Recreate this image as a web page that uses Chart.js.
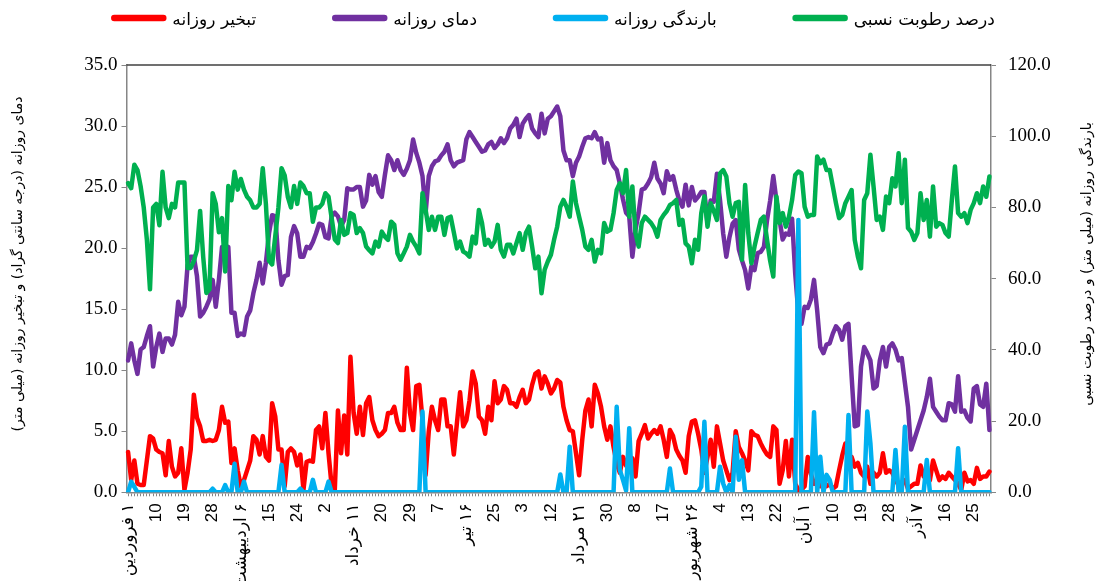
<!DOCTYPE html>
<html lang="fa">
<head>
<meta charset="utf-8">
<title>تبخیر، دما، بارندگی و رطوبت روزانه</title>
<script src="https://cdn.jsdelivr.net/npm/chart.js@4.4.1/dist/chart.umd.min.js"></script>
<style>
    html, body { margin: 0; padding: 0; background: #ffffff; }
    #chart { display: block; }
</style>
</head>
<body>
<canvas id="chart" width="1101" height="581" dir="rtl"></canvas>
<script>
/**
 * Daily weather chart: evaporation and temperature on the left axis,
 * rainfall and relative humidity on the right axis, from 1 Farvardin to 30 Azar.
 */

// Tick labels, one every 9 days
const TICK_LABELS = [
    '۱ فروردین', '10', '19', '28', '۶ اردیبهشت', '15', '24', '2', '۱۱ خرداد', '20', '29',
    '7', '۱۶ تیر', '25', '3', '12', '۲۱ مرداد', '30', '8', '17', '۲۶ شهریور', '4',
    '13', '22', '۱ آبان', '10', '19', '28', '۷ آذر', '16', '25'
];
const LABEL_STEP = 9;

// Daily evaporation (mm) - left axis
const EVAPORATION = [
    3.3, 1.0, 2.6, 0.7, 0.6, 0.6, 2.6, 4.6, 4.4, 3.5,
    3.3, 3.2, 1.4, 4.2, 2.1, 1.3, 1.6, 3.6, 0.2, 1.6,
    3.5, 8.0, 6.1, 5.4, 4.2, 4.2, 4.3, 4.2, 4.3, 5.1,
    7.0, 5.7, 5.8, 2.4, 3.6, 1.8, 0.5, 1.0, 1.8, 2.6,
    4.6, 4.3, 3.1, 4.6, 2.9, 2.6, 7.3, 6.2, 3.5, 3.5,
    0.5, 3.3, 3.6, 3.3, 2.2, 3.1, 0.2, 2.5, 2.6, 2.5,
    5.1, 5.4, 3.6, 6.5, 3.2, 0.5, 0.2, 6.7, 3.2, 6.3,
    3.1, 11.1, 6.5, 4.8, 7.0, 4.7, 7.3, 7.8, 5.9, 5.1,
    4.6, 4.8, 5.1, 6.5, 6.5, 7.0, 5.7, 5.1, 5.1, 10.2,
    6.5, 5.1, 8.7, 8.8, 5.9, 1.4, 5.0, 7.0, 5.9, 5.1,
    7.6, 7.6, 5.4, 5.4, 3.1, 5.7, 8.2, 5.4, 5.9, 7.5,
    9.9, 8.9, 6.2, 5.9, 4.8, 7.0, 5.9, 9.1, 7.3, 7.6,
    8.7, 8.4, 7.3, 7.3, 7.0, 7.8, 8.4, 7.3, 7.6, 8.8,
    9.7, 9.9, 8.5, 9.5, 8.9, 8.1, 8.5, 9.2, 9.0, 7.0,
    5.9, 5.1, 5.0, 3.2, 1.4, 4.3, 6.7, 7.6, 5.4, 8.8,
    8.1, 7.0, 5.4, 4.3, 5.4, 3.7, 2.4, 1.6, 2.9, 2.2,
    1.8, 2.8, 1.3, 4.2, 4.8, 5.5, 4.4, 4.8, 5.1, 4.8,
    5.4, 4.3, 2.9, 5.1, 4.6, 3.5, 3.0, 2.6, 1.6, 4.6,
    5.8, 5.9, 4.8, 3.5, 1.6, 2.9, 4.3, 2.1, 5.4, 4.0,
    2.6, 1.8, 1.0, 1.6, 5.0, 3.7, 3.2, 2.6, 1.8, 5.0,
    4.7, 4.6, 4.0, 3.5, 3.1, 2.9, 5.4, 5.1, 0.7, 1.8,
    4.2, 1.3, 4.3, 0.7, 0.2, 0.2, 0.5, 2.9, 1.5, 0.7,
    1.0, 0.5, 0.6, 0.5, 0.7, 0.3, 0.5, 1.8, 3.0, 4.0,
    2.6, 2.9, 2.1, 2.4, 1.6, 1.3, 2.1, 0.7, 1.6, 1.3,
    1.6, 3.2, 1.6, 1.8, 1.6, 1.0, 0.6, 0.8, 1.0, 0.3,
    0.5, 0.7, 0.7, 2.2, 1.3, 1.1, 1.0, 2.6, 1.8, 1.0,
    1.3, 1.1, 1.6, 1.3, 1.0, 0.7, 0.2, 1.6, 0.9, 1.0,
    0.7, 2.0, 1.1, 1.3, 1.3, 1.7
];

// Daily temperature (°C) - left axis
const TEMPERATURE = [
    10.8, 12.2, 10.8, 9.7, 11.7, 11.9, 12.8, 13.6, 10.3, 11.9,
    13.0, 11.5, 12.6, 12.6, 12.1, 12.9, 15.6, 14.5, 15.2, 18.6,
    19.3, 19.3, 17.7, 14.4, 14.7, 15.2, 15.8, 17.4, 15.2, 17.4,
    20.1, 19.0, 20.1, 14.7, 14.7, 12.8, 13.0, 12.9, 14.4, 14.9,
    16.3, 17.4, 18.8, 17.1, 18.8, 21.2, 22.7, 22.6, 19.0, 17.0,
    17.7, 17.8, 20.9, 21.8, 21.2, 19.3, 19.3, 20.1, 20.0, 20.5,
    21.2, 22.0, 21.9, 20.9, 20.8, 22.6, 22.9, 22.6, 21.8, 22.3,
    24.9, 24.8, 24.8, 25.0, 25.0, 23.4, 23.9, 26.0, 25.2, 25.9,
    24.6, 24.2, 26.0, 27.6, 27.2, 26.4, 27.2, 26.4, 26.0, 26.5,
    27.2, 28.9, 27.8, 27.0, 25.9, 22.9, 25.9, 26.7, 27.1, 27.2,
    27.6, 27.9, 28.5, 27.2, 26.7, 27.0, 27.1, 27.2, 28.9, 29.5,
    29.1, 28.7, 28.3, 27.9, 28.0, 28.5, 28.7, 28.2, 28.5, 29.0,
    28.6, 29.0, 29.8, 30.1, 30.6, 29.1, 30.2, 30.6, 30.9, 29.8,
    29.4, 29.1, 31.0, 29.4, 30.6, 30.8, 31.2, 31.6, 30.8, 28.0,
    27.2, 27.2, 25.9, 27.0, 27.5, 28.3, 29.0, 29.1, 29.0, 29.5,
    28.9, 29.0, 27.0, 28.6, 27.2, 26.7, 26.4, 25.3, 24.0, 22.9,
    22.6, 19.3, 21.5, 22.9, 24.8, 24.9, 25.3, 25.8, 27.0, 25.7,
    25.3, 24.5, 26.3, 25.6, 25.9, 24.8, 23.9, 23.4, 25.2, 23.5,
    25.0, 23.9, 24.2, 24.6, 24.6, 22.0, 23.9, 23.8, 26.1, 23.9,
    21.2, 19.3, 20.9, 22.0, 22.3, 19.9, 19.0, 18.2, 16.7, 18.5,
    18.2, 19.6, 19.7, 20.1, 22.3, 23.9, 25.9, 23.9, 22.3, 20.7,
    21.2, 21.1, 22.4, 17.9, 14.7, 13.8, 15.2, 15.1, 15.8, 17.4,
    14.9, 11.9, 11.4, 12.1, 12.2, 13.0, 13.6, 13.3, 12.5, 13.6,
    13.8, 9.5, 5.4, 5.5, 10.3, 11.9, 11.4, 10.8, 8.5, 8.7,
    10.8, 11.9, 10.3, 11.9, 12.2, 11.7, 10.8, 11.0, 9.0, 7.0,
    3.5, 4.3, 5.1, 5.9, 6.7, 7.8, 9.3, 7.0, 6.6, 6.2,
    5.9, 5.9, 7.3, 7.2, 6.6, 9.5, 6.6, 6.7, 6.1, 5.8,
    8.5, 8.7, 7.2, 7.0, 8.9, 5.1
];

// Daily rainfall (mm) - right axis
const RAINFALL = [
    0, 3.0, 1.5, 0, 0, 0, 0, 0, 0, 0,
    0, 0, 0, 0, 0, 0, 0, 0, 0, 0,
    0, 0, 0, 0, 0, 0, 0, 1.0, 0, 0,
    0, 2.0, 0, 0, 8.0, 0, 0, 3.0, 0, 0,
    0, 0, 0, 0, 0, 0, 0, 0, 0, 7.7,
    0, 0, 0, 0, 0, 1.0, 0, 0, 0, 3.5,
    0, 0, 0, 0, 3.0, 0, 0, 0, 0, 0,
    0, 0, 0, 0, 0, 0, 0, 0, 0, 0,
    0, 0, 0, 0, 0, 0, 0, 0, 0, 0,
    0, 0, 0, 0, 22.7, 0, 0, 0, 0, 0,
    0, 0, 0, 0, 0, 0, 0, 0, 0, 0,
    0, 0, 0, 0, 0, 0, 0, 0, 0, 0,
    0, 0, 0, 0, 0, 0, 0, 0, 0, 0,
    0, 0, 0, 0, 0, 0, 0, 0, 5.0, 0,
    0, 12.8, 0, 0, 0, 0, 0, 0, 0, 0,
    0, 0, 0, 0, 0, 0, 24.0, 6.3, 3.5, 0.5,
    18.0, 0, 0, 0, 0, 0, 0, 0, 0, 0,
    0, 0, 0, 6.7, 0, 0, 0, 0, 0, 0,
    0, 0, 0, 1.6, 19.8, 0, 0, 0, 0, 7.2,
    2.5, 0, 2.0, 0, 15.6, 3.5, 9.0, 0, 0, 0,
    0, 0, 0, 0, 0, 0, 0, 0, 0, 0,
    0, 0, 0, 0, 76.5, 0, 0, 0, 0, 22.5,
    0, 10.0, 0, 4.9, 3.5, 0, 0, 0, 0, 0,
    21.7, 0, 0, 0, 0, 0, 22.7, 13.8, 0, 0,
    0, 0, 0, 0, 0, 11.9, 0, 0, 18.4, 0,
    0, 0, 0, 0, 0, 9.1, 0, 0, 0, 0,
    0, 0, 0, 0, 0, 12.4, 0, 0, 0, 0,
    0, 0, 0, 0, 0, 0
];

// Daily relative humidity (%) - right axis
const HUMIDITY = [
    86.8, 85.4, 92.0, 90.5, 86.0, 80.0, 71.0, 57.0, 80.0, 81.0,
    75.0, 90.0, 80.0, 77.0, 81.0, 80.0, 87.0, 87.0, 87.0, 63.0,
    63.0, 65.0, 68.0, 79.0, 66.0, 56.0, 57.0, 84.0, 81.0, 73.0,
    77.0, 62.0, 86.0, 82.0, 90.0, 85.0, 88.0, 85.0, 83.0, 82.0,
    80.0, 80.0, 81.0, 91.0, 81.0, 65.0, 64.0, 72.0, 80.0, 91.0,
    89.0, 83.0, 80.0, 86.0, 81.0, 87.0, 86.0, 84.0, 84.0, 76.0,
    80.0, 80.0, 81.0, 84.0, 83.0, 77.0, 71.0, 70.0, 76.5, 72.3,
    72.8, 78.4, 77.9, 72.8, 74.2, 72.8, 69.0, 68.0, 67.1, 70.4,
    69.0, 73.2, 71.8, 70.9, 76.0, 75.1, 67.1, 65.3, 67.1, 69.0,
    72.3, 70.4, 69.0, 67.1, 84.0, 79.3, 73.7, 77.4, 73.7, 77.4,
    77.4, 72.3, 77.0, 77.4, 73.0, 68.5, 70.4, 67.6, 67.1, 66.2,
    71.8, 69.9, 79.3, 75.6, 69.5, 70.9, 69.0, 70.4, 75.1, 68.1,
    66.2, 69.5, 69.5, 67.1, 70.0, 72.8, 68.1, 72.8, 74.6, 69.0,
    62.9, 66.2, 55.9, 62.5, 64.8, 66.7, 70.9, 74.6, 80.2, 82.1,
    80.2, 77.4, 87.3, 81.2, 77.4, 73.7, 69.0, 68.1, 70.9, 64.8,
    68.1, 67.1, 75.6, 73.2, 73.7, 78.4, 84.9, 86.8, 84.0, 90.5,
    77.4, 85.9, 72.8, 69.0, 75.6, 77.4, 76.5, 75.6, 74.2, 71.8,
    76.5, 77.9, 79.0, 80.7, 81.2, 82.1, 75.1, 76.5, 69.9, 69.0,
    64.3, 70.9, 68.1, 78.4, 83.1, 74.6, 81.2, 79.0, 76.5, 89.6,
    90.5, 88.7, 81.2, 77.4, 81.2, 81.6, 65.3, 86.3, 72.8, 64.3,
    69.0, 72.8, 76.5, 77.4, 70.9, 65.0, 60.6, 83.1, 75.6, 78.4,
    74.6, 77.4, 82.1, 89.1, 90.1, 89.6, 80.2, 77.4, 77.9, 77.9,
    94.3, 92.4, 93.4, 90.5, 90.5, 85.9, 81.2, 77.0, 77.9, 81.2,
    83.0, 84.9, 70.9, 66.2, 62.9, 82.1, 84.0, 94.8, 85.9, 76.5,
    77.4, 73.7, 83.1, 81.2, 88.2, 85.9, 95.2, 81.2, 93.4, 74.2,
    73.2, 70.9, 72.8, 84.0, 76.5, 82.1, 71.8, 85.9, 74.6, 75.6,
    75.1, 72.8, 71.8, 82.1, 91.5, 78.4, 77.4, 78.4, 75.6, 79.3,
    81.2, 84.0, 81.2, 85.9, 83.0, 88.7
];

// Series colours
const RED = '#FF0000';
const PURPLE = '#7030A0';
const BLUE = '#00B0F0';
const GREEN = '#00B050';
const AXIS_GREY = '#868686';

const LEFT_TITLE = 'دمای روزانه (درجه سانتی گراد) و تبخیر روزانه (میلی متر)';
const RIGHT_TITLE = 'بارندگی روزانه (میلی متر) و درصد رطوبت نسبی';

const PERSIAN_FONT = '"DejaVu Sans", sans-serif';
const NUMBER_FONT = '"Liberation Serif", "Times New Roman", serif';

// One category per day, labelled every LABEL_STEP days
const DAY_LABELS = EVAPORATION.map((_, i) => (i % LABEL_STEP === 0 ? TICK_LABELS[i / LABEL_STEP] : ''));

/**
 * Draws the legend row, the top frame line and the two axis titles.
 */
const chartDecorations = {
    id: 'chartDecorations',
    afterDraw(chart) {
        const { ctx, chartArea } = chart;
        ctx.save();

        // top frame of the plot area
        ctx.strokeStyle = '#404040';
        ctx.lineWidth = 1.5;
        ctx.beginPath();
        ctx.moveTo(chartArea.left, chartArea.top);
        ctx.lineTo(chartArea.right, chartArea.top);
        ctx.stroke();

        // axis titles, both read from top to bottom
        ctx.fillStyle = '#000000';
        ctx.font = '14px ' + PERSIAN_FONT;
        ctx.textAlign = 'center';
        ctx.textBaseline = 'middle';
        ctx.direction = 'rtl';
        [[LEFT_TITLE, 18], [RIGHT_TITLE, 1087]].forEach(([text, x]) => {
            ctx.save();
            ctx.translate(x, 264);
            ctx.rotate(-Math.PI / 2);
            ctx.fillText(text, 0, 0);
            ctx.restore();
        });

        // legend: swatch then label, items evenly spaced
        const swatch = 55;
        const gap = 76;
        ctx.font = '17px ' + PERSIAN_FONT;
        ctx.textAlign = 'left';
        const items = chart.data.datasets.map(ds => ({
            text: ds.label,
            color: ds.borderColor,
            width: swatch + 6 + ctx.measureText(ds.label).width
        }));
        const total = items.reduce((a, it) => a + it.width, 0) + gap * (items.length - 1);
        let x = 553 - total / 2;
        items.forEach(it => {
            ctx.strokeStyle = it.color;
            ctx.lineWidth = 6.5;
            ctx.lineCap = 'round';
            ctx.beginPath();
            ctx.moveTo(x + 3, 18);
            ctx.lineTo(x + swatch - 3, 18);
            ctx.stroke();
            ctx.fillText(it.text, x + swatch + 6, 21);
            x += it.width + gap;
        });

        ctx.restore();
    }
};

function lineDataset(label, data, color, axis, order) {
    return {
        label: label,
        data: data,
        yAxisID: axis,
        borderColor: color,
        backgroundColor: color,
        borderWidth: 4.5,
        borderJoinStyle: 'round',
        borderCapStyle: 'round',
        pointRadius: 0,
        tension: 0,
        order: order
    };
}

function yAxis(position, max, step, width, pad) {
    return {
        position: position,
        min: 0,
        max: max,
        ticks: {
            stepSize: step,
            padding: pad,
            color: '#000000',
            font: { family: NUMBER_FONT, size: 19 },
            callback: value => value.toFixed(1)
        },
        grid: { drawOnChartArea: false, tickLength: 5, color: AXIS_GREY },
        border: { color: AXIS_GREY, width: 1.5 },
        afterFit: scale => { scale.width = width; }
    };
}

const ctx = document.getElementById('chart');
new Chart(ctx, {
    type: 'line',
    data: {
        labels: DAY_LABELS,
        datasets: [
            lineDataset('تبخیر روزانه', EVAPORATION, RED, 'y', 3),
            lineDataset('دمای روزانه', TEMPERATURE, PURPLE, 'y', 2),
            lineDataset('بارندگی روزانه', RAINFALL, BLUE, 'y1', 0),
            lineDataset('درصد رطوبت نسبی', HUMIDITY, GREEN, 'y1', 1)
        ]
    },
    options: {
        responsive: false,
        animation: false,
        devicePixelRatio: 1,
        layout: { padding: { top: 65, left: 0, right: 0, bottom: 0 } },
        plugins: {
            legend: { display: false },
            tooltip: { enabled: false }
        },
        scales: {
            x: {
                type: 'category',
                offset: true,
                ticks: {
                    autoSkip: false,
                    minRotation: 90,
                    maxRotation: 90,
                    padding: 7,
                    color: '#000000',
                    font: { family: '"Liberation Sans", "DejaVu Sans", sans-serif', size: 17 }
                },
                grid: { drawOnChartArea: false, tickLength: 4, color: AXIS_GREY },
                border: { color: AXIS_GREY, width: 1.5 },
                afterFit: scale => { scale.height = 88.7; }
            },
            y: yAxis('left', 35, 5, 126.5, 4),
            y1: yAxis('right', 120, 20, 110, 12)
        }
    },
    plugins: [chartDecorations]
});
</script>
</body>
</html>
